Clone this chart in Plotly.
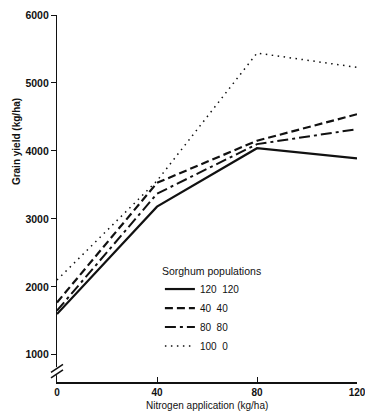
import plotly.graph_objects as go

nitrogen = [0, 40, 80, 120]
pop_120_120 = [1600, 3180, 4040, 3890]
pop_40_40 = [1770, 3530, 4150, 4540]
pop_80_80 = [1650, 3370, 4100, 4320]
pop_100_0 = [2100, 3560, 5440, 5230]

series_names = ["120  120", "40  40", "80  80", "100  0"]
y_ticks = [1000, 2000, 3000, 4000, 5000, 6000]
x_ticks = [0, 40, 80, 120]

FONT = "Liberation Sans, Arial, sans-serif"
INK = "#111111"

fig = go.Figure()
styles = [
    dict(dash="solid", width=2.2),
    dict(dash="8px,4px", width=2.2),
    dict(dash="11px,4px,3px,4px", width=2.0),
    dict(dash="1.5px,4.5px", width=1.5),
]
for name, ys, st in zip(series_names, [pop_120_120, pop_40_40, pop_80_80, pop_100_0], styles):
    fig.add_trace(go.Scatter(
        x=nitrogen, y=ys, mode="lines", name=name,
        line=dict(color=INK, width=st["width"], dash=st["dash"]),
    ))

fig.update_layout(
    width=365, height=414,
    margin=dict(l=57, r=8, t=15, b=32),
    paper_bgcolor="white", plot_bgcolor="white",
    font=dict(family=FONT, color=INK, size=10),
    showlegend=True,
    legend=dict(
        x=0.343, y=0.33, xanchor="left", yanchor="top",
        bgcolor="rgba(0,0,0,0)",
        title=dict(text="Sorghum populations", font=dict(size=10.5, family=FONT)),
        font=dict(size=10, family=FONT),
        tracegroupgap=0,
        itemwidth=30,
    ),
    xaxis=dict(
        range=[0, 120], tickvals=x_ticks, ticktext=[str(v) for v in x_ticks],
        showgrid=False, zeroline=False, showline=True, linecolor=INK, linewidth=1.5,
        ticks="inside", ticklen=5, tickcolor=INK, tickwidth=1.2,
        ticklabeloverflow="allow", automargin=False,
        tickfont=dict(size=10, family=FONT, weight="bold"),
    ),
    yaxis=dict(
        range=[600, 6000], tickvals=y_ticks, ticktext=[str(v) for v in y_ticks],
        showgrid=False, zeroline=False, showline=True, linecolor=INK, linewidth=1.2,
        ticks="outside", ticklen=5, tickcolor=INK, tickwidth=1.2,
        automargin=False,
        tickfont=dict(size=10.5, family=FONT, weight="bold"),
    ),
)

# axis break marks on the y-axis
fig.add_shape(type="line", xref="paper", yref="y", x0=0, x1=0, y0=700, y1=820,
              line=dict(color="white", width=3), layer="above")
for y0 in [720, 800]:
    fig.add_shape(type="line", xref="paper", yref="y",
                  x0=-0.02, x1=0.02, y0=y0 - 60, y1=y0 + 60,
                  line=dict(color=INK, width=1.5), layer="above")

fig.add_annotation(text="Grain yield (kg/ha)", xref="paper", yref="paper",
                   x=-0.16, y=0.655, textangle=-90, showarrow=False,
                   font=dict(size=10, family=FONT, weight="bold"))
fig.add_annotation(text="Nitrogen application (kg/ha)", xref="paper", yref="paper",
                   x=0.5, y=-0.065, yanchor="middle", showarrow=False,
                   font=dict(size=10, family=FONT))

fig.write_html("out.html")
